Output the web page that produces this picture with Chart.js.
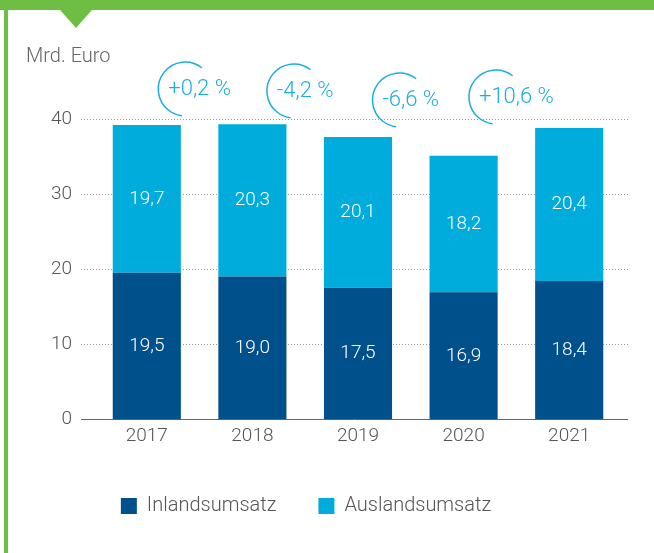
<!DOCTYPE html>
<html>
<head>
<meta charset="utf-8">
<script src="https://cdn.jsdelivr.net/npm/chart.js@4"></script>
<style>
html, body { margin: 0; padding: 0; background: #fff; }
#wrap { position: relative; width: 654px; height: 553px; }
</style>
</head>
<body>
<div id="wrap"><canvas id="chart"></canvas></div>
<script>
const years = ['2017', '2018', '2019', '2020', '2021'];
const inland = [19.5, 19.0, 17.5, 16.9, 18.4];
const ausland = [19.7, 20.3, 20.1, 18.2, 20.4];
const changes = ['+0,2 %', '-4,2 %', '-6,6 %', '+10,6 %'];
const yTicks = [0, 10, 20, 30, 40];
const unitLabel = 'Mrd. Euro';

const FONT = 'Roboto, "Open Sans", sans-serif';
const GREEN = '#6fbe44';
const DARK = '#00508c';
const LIGHT = '#00acdc';
const ACCENT = '#1aaee0';

const fmt = v => v.toFixed(1).replace('.', ',');

// frame, unit label, gridlines, labels in bars and change bubbles
const decor = {
    id: 'decor',
    afterLayout(chart) {
        // legend sits a bit left of the centre in the original
        chart.legend.left -= 22;
        chart.legend.right -= 22;
    },
    beforeDraw(chart) {
        const c = chart.ctx;
        c.save();
        c.fillStyle = GREEN;
        c.fillRect(0, 0, chart.width, 10);
        c.fillRect(4, 0, 4, chart.height);
        c.beginPath();
        c.moveTo(60, 10);
        c.lineTo(92, 10);
        c.lineTo(76, 28);
        c.closePath();
        c.fill();

        c.fillStyle = '#666';
        c.font = '300 20px ' + FONT;
        c.textBaseline = 'middle';
        c.textAlign = 'left';
        c.fillText(unitLabel, 26, 57);
        c.restore();
    },
    beforeDatasetsDraw(chart) {
        const c = chart.ctx;
        const y = chart.scales.y;
        const area = chart.chartArea;
        const x0 = area.left - 13, x1 = area.right + 6;
        c.save();
        yTicks.forEach(t => {
            const py = Math.round(y.getPixelForValue(t)) + 0.5;
            c.beginPath();
            if (t === 0) {
                c.setLineDash([]);
                c.strokeStyle = '#666';
            } else {
                c.setLineDash([1, 2]);
                c.strokeStyle = '#999';
            }
            c.lineWidth = 1;
            c.moveTo(x0, py);
            c.lineTo(x1, py);
            c.stroke();
        });
        c.restore();
    },
    afterDatasetsDraw(chart) {
        const c = chart.ctx;
        c.save();
        c.font = '300 19px ' + FONT;
        c.textAlign = 'center';
        c.textBaseline = 'middle';
        c.fillStyle = '#fff';
        chart.data.datasets.forEach((ds, i) => {
            chart.getDatasetMeta(i).data.forEach((bar, j) => {
                const p = bar.getProps(['x', 'y', 'base'], true);
                c.fillText(fmt(ds.data[j]), p.x, (p.y + p.base) / 2);
            });
        });

        const bars = chart.getDatasetMeta(0).data;
        const top = chart.scales.y.getPixelForValue(40);
        const lift = [-30, -28, -19, -22];
        c.font = '300 22px ' + FONT;
        c.textAlign = 'left';
        c.fillStyle = ACCENT;
        c.strokeStyle = ACCENT;
        c.lineWidth = 1.5;
        changes.forEach((txt, i) => {
            const mx = (bars[i].x + bars[i + 1].x) / 2;
            const ty = top + lift[i];
            const w = c.measureText(txt).width;
            const left = mx - w / 2;
            c.fillText(txt, left, ty);
            c.beginPath();
            c.arc(left + 17, ty, 27, -52 * Math.PI / 180, 97 * Math.PI / 180, true);
            c.stroke();
        });
        c.restore();
    }
};

new Chart(document.getElementById('chart'), {
    type: 'bar',
    data: {
        labels: years,
        datasets: [{
            label: 'Inlandsumsatz',
            data: inland,
            backgroundColor: DARK
        },
        {
            label: 'Auslandsumsatz',
            data: ausland,
            backgroundColor: LIGHT
        }]
    },
    options: {
        responsive: true,
        maintainAspectRatio: false,
        animation: false,
        barPercentage: 0.645,
        categoryPercentage: 1,
        layout: {
            padding: {
                left: 34,
                right: 32,
                top: 119,
                bottom: 27
            }
        },
        scales: {
            x: {
                stacked: true,
                grid: { display: false, drawTicks: false },
                border: { display: false },
                ticks: {
                    color: '#555',
                    padding: 6,
                    font: { family: FONT, size: 19, weight: 300 }
                }
            },
            y: {
                stacked: true,
                min: 0,
                max: 40,
                grid: { display: false, drawTicks: false },
                border: { display: false },
                afterFit(s) { s.width = 60; },
                ticks: {
                    stepSize: 10,
                    color: '#555',
                    padding: 22,
                    font: { family: FONT, size: 19, weight: 300 }
                }
            }
        },
        plugins: {
            legend: {
                position: 'bottom',
                labels: {
                    boxWidth: 16,
                    boxHeight: 16,
                    padding: 42,
                    color: '#555',
                    font: { family: FONT, size: 20, weight: 300 }
                }
            },
            tooltip: { enabled: false }
        }
    },
    plugins: [decor]
});
</script>
</body>
</html>
